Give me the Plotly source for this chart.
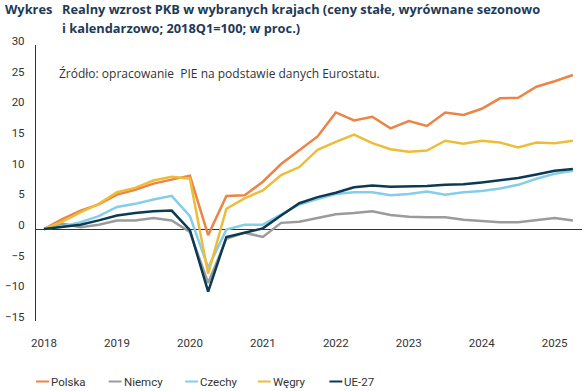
import plotly.graph_objects as go

quarters = list(range(30))  # 2018Q1 .. 2025Q2
year_ticks = [0, 4, 8, 12, 16, 20, 24, 28]
year_labels = ["2018", "2019", "2020", "2021", "2022", "2023", "2024", "2025"]
y_ticks = [-15, -10, -5, 0, 5, 10, 15, 20, 25, 30]

polska = [0, 1.6, 3.0, 4.0, 5.6, 6.4, 7.4, 8.1, 8.7, -1.0, 5.4, 5.5, 7.7, 10.6, 12.9,
          15.1, 19.0, 17.7, 18.3, 16.4, 17.6, 16.8, 19.0, 18.6, 19.6, 21.3, 21.4, 23.2, 24.1, 25.1]
niemcy = [0, 0.9, 0.3, 0.7, 1.4, 1.4, 1.8, 1.4, -0.5, -8.8, -1.6, -0.6, -1.3, 1.0, 1.2,
          1.8, 2.4, 2.6, 2.9, 2.3, 2.0, 1.9, 1.9, 1.5, 1.3, 1.1, 1.1, 1.4, 1.8, 1.4]
czechy = [0, 0.4, 1.1, 2.1, 3.6, 4.1, 4.8, 5.4, 2.1, -6.3, -0.1, 0.7, 0.7, 2.3, 4.0,
          4.9, 5.7, 6.0, 6.0, 5.5, 5.7, 6.1, 5.6, 6.0, 6.2, 6.6, 7.2, 8.2, 9.0, 9.5]
wegry = [0, 1.2, 2.7, 4.1, 6.0, 6.7, 7.9, 8.5, 8.2, -7.3, 3.3, 5.0, 6.3, 8.8, 10.1,
         12.9, 14.2, 15.4, 14.0, 13.0, 12.6, 12.8, 14.4, 13.9, 14.4, 14.1, 13.3, 14.1, 14.0, 14.4]
ue27 = [0, 0.4, 0.7, 1.4, 2.2, 2.6, 2.9, 3.0, -0.2, -10.2, -1.3, -0.6, 0.1, 2.2, 4.2,
        5.2, 5.9, 6.8, 7.1, 6.9, 6.9, 7.0, 7.2, 7.3, 7.6, 7.9, 8.3, 8.9, 9.5, 9.8]

series_names = ["Polska", "Niemcy", "Czechy", "Węgry", "UE-27"]
series_values = [polska, niemcy, czechy, wegry, ue27]
colors = ["#EC8446", "#9B9B9B", "#86CDEA", "#EDBD3A", "#0C3A52"]
draw_order = [1, 2, 0, 3, 4]  # drawing order (UE-27 on top)

W, H = 587, 391
ML, MR, MT, MB = 33, 5, 45, 70

fig = go.Figure()
for i in draw_order:
    fig.add_trace(go.Scatter(
        x=quarters, y=series_values[i], mode="lines", name=series_names[i],
        line=dict(color=colors[i], width=2.5), showlegend=False,
    ))

font_fam = "Roboto, Open Sans, sans-serif"
wide_fam = "Open Sans, Roboto, sans-serif"

fig.update_layout(
    width=W, height=H,
    margin=dict(l=ML, r=MR, t=MT, b=MB),
    paper_bgcolor="white", plot_bgcolor="white",
    showlegend=False,
    font=dict(family=font_fam, size=11, color="#333333"),
    xaxis=dict(
        range=[-0.44, 29.5], tickvals=year_ticks, ticktext=year_labels,
        showgrid=False, zeroline=False, showline=False, ticks="",
        ticklabelstandoff=13, tickfont=dict(size=11.5, color="#333333"),
    ),
    yaxis=dict(
        range=[-15, 30], tickvals=y_ticks, showgrid=False,
        zeroline=True, zerolinecolor="#333333", zerolinewidth=1,
        showline=True, linecolor="#333333", linewidth=1.2, ticks="",
        ticklabelstandoff=8, ticklabelshift=-4, tickfont=dict(size=11.5, color="#333333"),
    ),
)

title_font = dict(family=wide_fam, size=12.8, color="#1D3A57")
annotations = [
    dict(text="<b>Wykres</b>", x=0, y=H - 9, xanchor="left", yanchor="middle",
         showarrow=False, font=title_font),
    dict(text="<b>Realny wzrost PKB w wybranych krajach (ceny stałe, wyrównane sezonowo</b>",
         x=57, y=H - 9, xanchor="left", yanchor="middle", showarrow=False, font=title_font),
    dict(text="<b>i kalendarzowo; 2018Q1=100; w proc.)</b>",
         x=57, y=H - 28, xanchor="left", yanchor="middle", showarrow=False, font=title_font),
    dict(text="Źródło: opracowanie  PIE na podstawie danych Eurostatu.",
         x=54, y=H - 73, xanchor="left", yanchor="middle", showarrow=False,
         font=dict(family=wide_fam, size=12, color="#333333")),
]
pw, ph = W - ML - MR, H - MT - MB
for a in annotations:
    a["xref"] = "paper"; a["yref"] = "paper"
    a["x"] = (a["x"] - ML) / pw
    a["y"] = (a["y"] - MB) / ph

shapes = []
legend_x = [33, 106, 183, 256, 328]
legend_y = 381.5
for k, name in enumerate(series_names):
    lx = legend_x[k]
    yy = (H - legend_y - MB) / ph
    shapes.append(dict(type="line", xref="paper", yref="paper",
                       x0=(lx - ML) / pw, x1=(lx + 13 - ML) / pw, y0=yy, y1=yy,
                       line=dict(color=colors[k], width=2)))
    annotations.append(dict(text=name, xref="paper", yref="paper",
                            x=(lx + 13 - ML) / pw, y=yy,
                            xanchor="left", yanchor="middle", showarrow=False,
                            font=dict(family=font_fam, size=11.5, color="#333333")))

fig.update_layout(annotations=annotations, shapes=shapes)
fig.write_html("out.html", config={"displayModeBar": False},
               post_script="document.body.style.margin='0';")
